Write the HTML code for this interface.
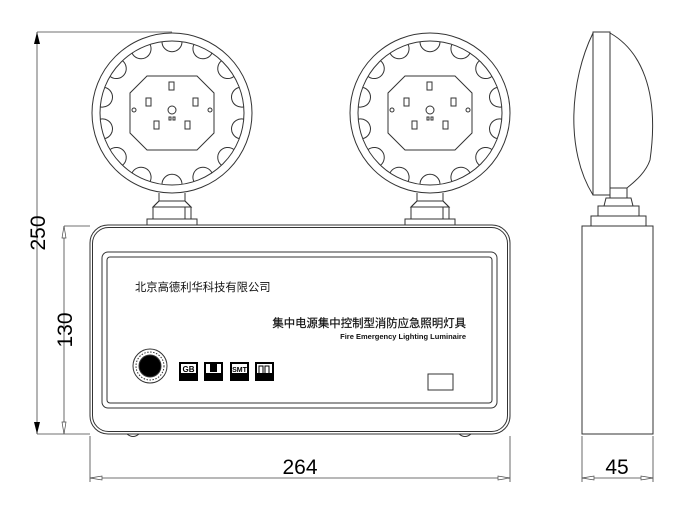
<!DOCTYPE html>
<html><head><meta charset="utf-8"><style>
html,body{margin:0;padding:0;background:#fff;width:699px;height:509px;overflow:hidden}
svg{display:block}
text{font-family:"Liberation Sans","Noto Sans CJK SC",sans-serif}
</style></head><body>
<svg id="s" width="699" height="509" viewBox="0 0 699 509" xmlns="http://www.w3.org/2000/svg" fill="none" stroke="#333" stroke-width="1">
<defs>
<g id="lamp">
 <circle cx="0" cy="0" r="80"/>
 <circle cx="0" cy="0" r="72"/>
 <g id="sc"></g>
 <path d="M-25,-37 L25,-37 L42,-20 L42,20 L25,37 L-25,37 L-42,20 L-42,-20 Z"/>
 <rect x="-3" y="-31" width="5" height="8"/>
 <rect x="-26" y="-15" width="5" height="8"/>
 <rect x="21" y="-15" width="5" height="8"/>
 <rect x="-18" y="8" width="5" height="8"/>
 <rect x="13" y="8" width="5" height="8"/>
 <circle cx="0" cy="-3" r="4"/>
 <circle cx="-38" cy="-3" r="2"/>
 <circle cx="38" cy="-3" r="2"/>
 <rect x="-3" y="4" width="2" height="3"/><rect x="1" y="4" width="2" height="3"/>
 <path d="M-13,80 L-13,88 L-19,94 L-19,106 L13,106 L13,94 L19,94 L13,88 L13,80"/>
 <path d="M-13,88 L13,88 L19,94 L-19,94 Z"/>
 <rect x="-19" y="94" width="38" height="12"/>
 <rect x="-25" y="106" width="50" height="6"/>
</g>
</defs>
<use href="#lamp" x="172" y="113"/>
<use href="#lamp" x="430" y="113"/>
<rect x="90" y="225" width="420" height="209" rx="18"/>
<rect x="92.5" y="227.5" width="415" height="204" rx="16"/>
<rect x="102" y="252" width="395" height="156" rx="6"/>
<rect x="107" y="257" width="385" height="146" rx="3"/>
<path d="M127,434 q6,5 12,0 M459,434 q6,5 12,0"/>
<rect x="428" y="374" width="25" height="16"/>
<circle cx="150" cy="366" r="17"/>
<circle cx="150" cy="366" r="14" stroke-dasharray="1.5 1.5"/>
<circle cx="150" cy="366" r="11" fill="#000"/>
<g fill="#000" stroke="none">
<rect x="179" y="362" width="19" height="19"/>
<rect x="204" y="362" width="19" height="19"/>
<rect x="230" y="362" width="19" height="19"/>
<rect x="255" y="362" width="19" height="19"/>
</g>
<g fill="#fff" stroke="none">
<rect x="181" y="364" width="15" height="9"/>
<rect x="206" y="364" width="15" height="9"/>
<rect x="232" y="364" width="15" height="9"/>
<rect x="257" y="364" width="15" height="9"/>
</g>
<text x="188.5" y="372" font-size="8" font-weight="bold" fill="#000" stroke="none" text-anchor="middle">GB</text>
<rect x="210" y="364" width="7" height="8" fill="#000" stroke="none"/>
<text x="239.5" y="372" font-size="7" font-weight="bold" fill="#000" stroke="none" text-anchor="middle">SMT</text>
<path d="M259,373 v-7 h4 v7 M265,373 v-7 h4 v7" stroke="#000"/>
<text x="135" y="291" font-size="11.3" fill="#111" stroke="none">北京高德利华科技有限公司</text>
<text x="466" y="327" font-size="11.4" fill="#111" stroke="#111" stroke-width="0.2" text-anchor="end">集中电源集中控制型消防应急照明灯具</text>
<text x="466" y="339" font-size="7.5" font-weight="bold" fill="#111" stroke="none" text-anchor="end">Fire Emergency Lighting Luminaire</text>
<rect x="582" y="226" width="71" height="208"/>
<path d="M593,33 C570,80 565,150 593,195"/>
<path d="M610,33 C640,50 660,90 650,160 C645,175 630,185 627,188"/>
<rect x="593" y="32" width="17" height="163"/>
<path d="M610,188 h17 v10 h-17 z M606,198 h25 l2,8 h-29 z"/>
<rect x="598" y="206" width="41" height="10"/>
<rect x="591" y="216" width="55" height="10"/>
<g stroke="#444" stroke-width="0.8">
<path d="M37,32 H172 M37,434 H90 M64,226 H90 M37,32 V434 M64,226 V434"/>
<path d="M90,436 V482 M510,436 V482 M90,478 H510"/>
<path d="M582,436 V482 M653,436 V482 M582,478 H653"/>
</g>
<g fill="#000" stroke="none">
<path d="M37,32 l-3,12 h6 z M37,434 l-3,-12 h6 z"/>
</g>
<g fill="#fff" stroke="#444" stroke-width="0.7">
<path d="M64,226 l-2,12 h4 z M64,434 l-2,-12 h4 z"/>
<path d="M90,478 l12,-2 v4 z M510,478 l-12,-2 v4 z"/>
<path d="M582,478 l12,-2 v4 z M653,478 l-12,-2 v4 z"/>
</g>
<g fill="#000" stroke="none" font-size="21">
<text transform="translate(45,233) rotate(-90)" text-anchor="middle">250</text>
<text transform="translate(72,330) rotate(-90)" text-anchor="middle">130</text>
<text x="300" y="474" text-anchor="middle">264</text>
<text x="617" y="474" text-anchor="middle">45</text>
</g>
</svg>
<script>
var sc=document.getElementById('sc'),ns='http://www.w3.org/2000/svg',n=14,R=72,r=10;
for(var i=0;i<n;i++){var a=i*2*Math.PI/n+Math.PI/n,t=Math.asin(r/R);
var x1=R*Math.cos(a-t),y1=R*Math.sin(a-t),x2=R*Math.cos(a+t),y2=R*Math.sin(a+t);
var p=document.createElementNS(ns,'path');
p.setAttribute('d','M'+x1+','+y1+' A'+r+','+r+' 0 0 0 '+x2+','+y2);
sc.appendChild(p);}
</script>
</body></html>
